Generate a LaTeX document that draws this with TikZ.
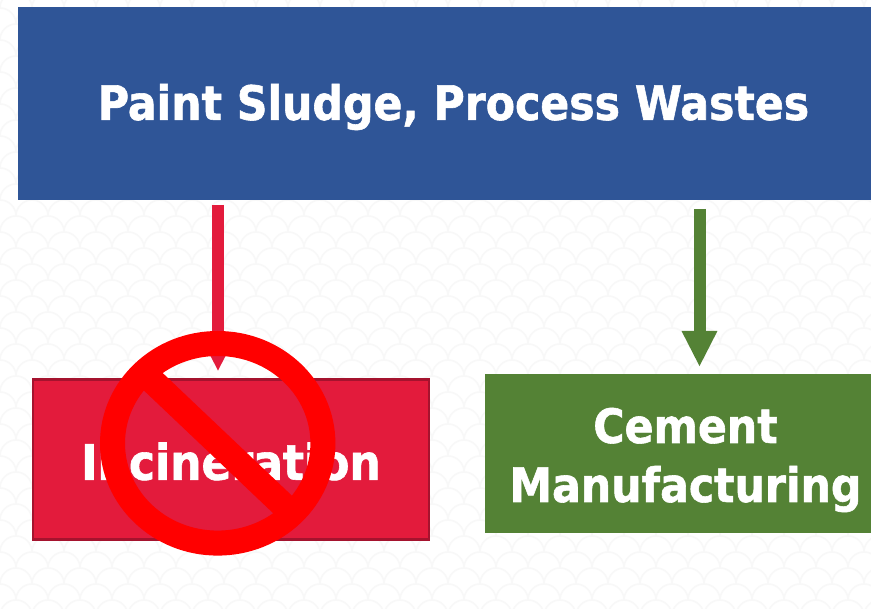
\documentclass[tikz,border=0pt]{standalone}
\usepackage{fontspec}
\setmainfont[BoldFeatures={FakeBold=1.2}]{DejaVu Sans Condensed}
\usetikzlibrary{arrows.meta}
\definecolor{bluebox}{HTML}{2F5597}
\definecolor{redbox}{HTML}{E31B3C}
\definecolor{redborder}{HTML}{A5132E}
\definecolor{greenbox}{HTML}{548235}
\definecolor{ringred}{HTML}{FF0000}
\definecolor{scallop}{HTML}{F8F8F8}
\tikzset{
  boxnode/.style={anchor=north west,inner sep=0pt,outer sep=0pt},
  flow/.style={line width=12pt,-{Triangle[length=36pt,width=33pt]}},
  labeltext/.style={anchor=center,align=center,text=white,font=\bfseries\fontsize{47.4}{59}\selectfont},
}
\begin{document}
\begin{tikzpicture}[x=1pt,y=-1pt]
\useasboundingbox (0,0) rectangle (871,609);
\fill[white] (0,0) rectangle (871,609);
\begin{scope}
\clip (0,0) rectangle (871,609);
\foreach \r in {0,...,39}{
  \foreach \c in {0,...,28}{
    \pgfmathsetmacro{\px}{\c*32+mod(\r,2)*16-16}
    \pgfmathsetmacro{\py}{\r*16-8}
    \draw[scallop,line width=1.6pt] (\px,\py) arc[start angle=180,end angle=360,radius=16];
  }
}
\end{scope}
\node[boxnode,fill=bluebox,minimum width=853pt,minimum height=193pt] (src) at (18,7) {};
\node[boxnode,fill=redbox,draw=redborder,line width=2.4pt,minimum width=396pt,minimum height=160pt] (inc) at (33,379.5) {};
\node[boxnode,fill=greenbox,minimum width=386pt,minimum height=159pt] (cem) at (485,374) {};
\node[labeltext] (srct) at (453.5,107) {Paint Sludge, Process Wastes};
\node[labeltext,font=\bfseries\fontsize{49}{59}\selectfont] (inct) at (231,461.5) {Incineration};
\node[labeltext] (cemt) at (685.5,460) {Cement\\Manufacturing};
\coordinate (ax) at (218,300);
\coordinate (bx) at (699.5,300);
\draw[flow,redbox,shorten <=5pt,shorten >=8pt] (ax |- src.south) -- (ax |- inc.north);
\draw[flow,greenbox,shorten <=9pt,shorten >=7pt] (bx |- src.south) -- (bx |- cem.north);
\coordinate (ring) at (217.7,443.3);
\draw[ringred,line width=25pt] (ring) ellipse[x radius=105.2,y radius=99.8];
\fill[ringred] (128.8,376.2) -- (287.8,527.1) -- (306.8,509.8) -- (147.8,358.9) -- cycle;
\end{tikzpicture}
\end{document}
